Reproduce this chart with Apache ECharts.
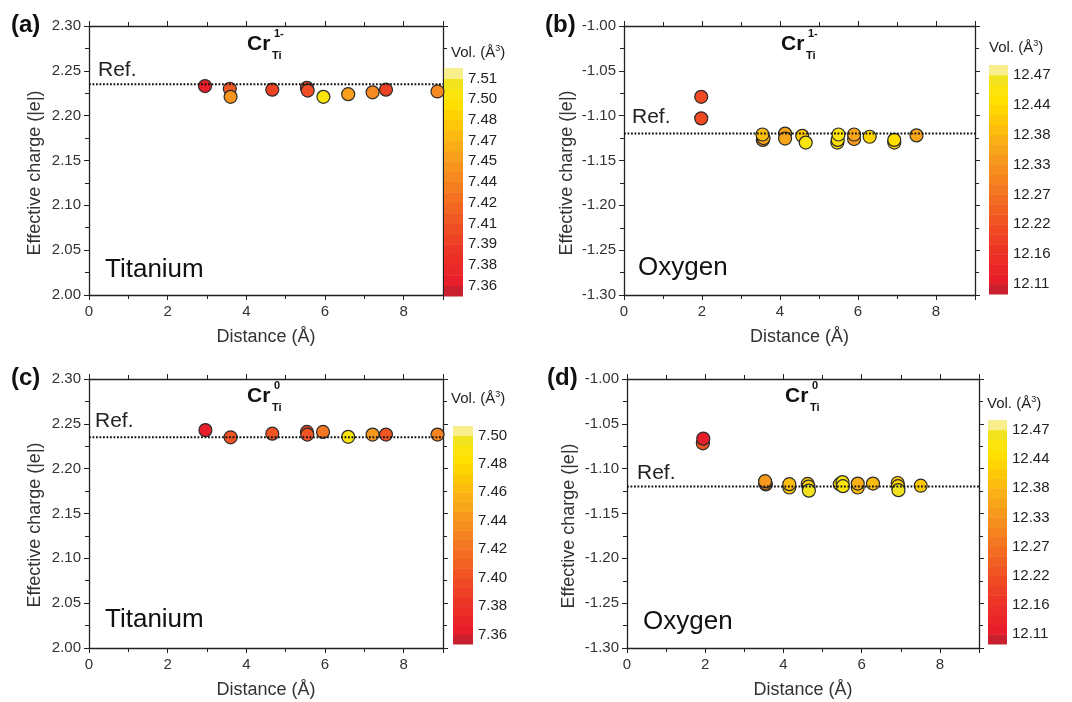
<!DOCTYPE html>
<html>
<head>
<meta charset="utf-8">
<script src="https://cdn.jsdelivr.net/npm/echarts@6/dist/echarts.min.js"></script>
<style>
  html, body { margin: 0; background: #fff; }
  #main { width: 1072px; height: 702px; }
</style>
</head>
<body>
<div id="main"></div>
<script>
var myChart = echarts.init(document.getElementById('main'));

// (a) Titanium, Cr 1-
const distA = [2.95, 3.58, 3.60, 4.66, 5.54, 5.56, 5.96, 6.59, 7.21, 7.55, 8.86];
const chargeA = [2.233, 2.230, 2.221, 2.229, 2.231, 2.228, 2.221, 2.224, 2.226, 2.229, 2.227];
const volA = [7.365, 7.41, 7.445, 7.395, 7.40, 7.405, 7.50, 7.455, 7.44, 7.39, 7.44];
const refA = 2.235;
const volTicksA = ['7.36', '7.38', '7.39', '7.41', '7.42', '7.44', '7.45', '7.47', '7.48', '7.50', '7.51'];

// (b) Oxygen, Cr 1-
const distB = [1.98, 1.98, 3.56, 3.58, 3.55, 4.13, 4.13, 4.57, 4.66, 5.47, 5.48, 5.50, 5.90, 5.90, 6.30, 6.93, 6.93, 7.50];
const chargeB = [-1.079, -1.103, -1.127, -1.125, -1.121, -1.120, -1.1255, -1.1225, -1.130, -1.130, -1.127, -1.121, -1.126, -1.121, -1.1235, -1.130, -1.127, -1.122];
const volB = [12.21, 12.21, 12.34, 12.36, 12.39, 12.35, 12.36, 12.41, 12.45, 12.45, 12.44, 12.45, 12.34, 12.35, 12.43, 12.43, 12.44, 12.36];
const refB = -1.120;
const volTicksB = ['12.11', '12.16', '12.22', '12.27', '12.33', '12.38', '12.44', '12.47'];

// (c) Titanium, Cr 0
const distC = [2.96, 3.60, 4.66, 5.54, 5.55, 5.95, 6.59, 7.21, 7.55, 8.86];
const chargeC = [2.243, 2.235, 2.239, 2.241, 2.238, 2.241, 2.2355, 2.238, 2.238, 2.238];
const volC = [7.365, 7.40, 7.40, 7.395, 7.40, 7.42, 7.49, 7.44, 7.40, 7.43];
const refC = 2.235;
const volTicksC = ['7.36', '7.38', '7.40', '7.42', '7.44', '7.46', '7.48', '7.50'];

// (d) Oxygen, Cr 0
const distD = [1.94, 1.95, 3.55, 3.53, 3.53, 4.15, 4.15, 4.62, 4.64, 4.65, 5.44, 5.51, 5.52, 5.90, 5.90, 6.29, 6.92, 6.93, 6.94, 7.51];
const chargeD = [-1.0717, -1.0665, -1.1175, -1.116, -1.114, -1.121, -1.1173, -1.117, -1.120, -1.1245, -1.1173, -1.115, -1.1195, -1.121, -1.1166, -1.1166, -1.116, -1.1195, -1.124, -1.119];
const volD = [12.235, 12.12, 12.33, 12.34, 12.34, 12.40, 12.39, 12.41, 12.43, 12.46, 12.42, 12.45, 12.45, 12.38, 12.37, 12.39, 12.40, 12.43, 12.46, 12.40];
const refD = -1.120;
const volTicksD = ['12.11', '12.16', '12.22', '12.27', '12.33', '12.38', '12.44', '12.47'];

const FONT = "'Liberation Sans', Arial, sans-serif";
const INK = '#222';

// colour ramp of the colour bars (bottom -> top)
const rampStops = [
  [0.00, '#e81f2a'], [0.15, '#ed3526'], [0.30, '#f05523'], [0.45, '#f47821'],
  [0.60, '#f7991d'], [0.72, '#fbb514'], [0.84, '#fed300'], [0.92, '#ffe400'], [1.00, '#f2e31f']
];
function hex(c) { return [1, 3, 5].map(function (k) { return parseInt(c.substr(k, 2), 16); }); }
function ramp(t) {
  for (let k = 1; k < rampStops.length; k++) {
    if (t <= rampStops[k][0]) {
      const a = rampStops[k - 1], b = rampStops[k];
      const f = (t - a[0]) / (b[0] - a[0]);
      const ca = hex(a[1]), cb = hex(b[1]);
      return 'rgb(' + ca.map(function (v, j) { return Math.round(v + (cb[j] - v) * f); }).join(',') + ')';
    }
  }
  return rampStops[rampStops.length - 1][1];
}

const panels = [
  { grid: { left: 89, top: 26, width: 354, height: 269 }, bar: { left: 444, top: 68, width: 19, height: 228 },
    yMin: 2.0, yMax: 2.3, dist: distA, charge: chargeA, vol: volA, ref: refA, ticks: volTicksA, perGap: 2 },
  { grid: { left: 624, top: 26, width: 351, height: 269 }, bar: { left: 989, top: 65, width: 19, height: 229 },
    yMin: -1.3, yMax: -1.0, dist: distB, charge: chargeB, vol: volB, ref: refB, ticks: volTicksB, perGap: 3 },
  { grid: { left: 89, top: 379, width: 354, height: 269 }, bar: { left: 453, top: 426, width: 20, height: 218 },
    yMin: 2.0, yMax: 2.3, dist: distC, charge: chargeC, vol: volC, ref: refC, ticks: volTicksC, perGap: 3 },
  { grid: { left: 627, top: 379, width: 352, height: 269 }, bar: { left: 988, top: 420, width: 19, height: 224 },
    yMin: -1.3, yMax: -1.0, dist: distD, charge: chargeD, vol: volD, ref: refD, ticks: volTicksD, perGap: 3 }
];

const grids = [], xAxes = [], yAxes = [], series = [], visualMaps = [];

function axisCommon(showLabel) {
  return {
    axisLine: { show: true, onZero: false, lineStyle: { color: INK, width: 1.3 } },
    axisTick: { show: true, inside: false, length: 5, lineStyle: { color: INK, width: 1 } },
    minorTick: { show: true, splitNumber: 2, length: 4, lineStyle: { color: INK, width: 1 } },
    splitLine: { show: false },
    axisLabel: { show: showLabel, color: '#333', fontSize: 15, fontFamily: FONT }
  };
}

panels.forEach(function (p, i) {
  const g = grids.length;
  grids.push(Object.assign({ outerBoundsMode: 'none' }, p.grid));
  grids.push(Object.assign({ outerBoundsMode: 'none' }, p.bar));

  const xb = xAxes.length;
  const xBottom = Object.assign(axisCommon(true), {
    type: 'value', gridIndex: g, position: 'bottom', min: 0, max: 9, interval: 2,
    name: 'Distance (\u00C5)', nameLocation: 'middle', nameGap: 33,
    nameTextStyle: { color: '#333', fontSize: 18, fontFamily: FONT }
  });
  xBottom.axisLabel.margin = 9;
  xBottom.axisLabel.showMaxLabel = false;
  xAxes.push(xBottom);
  const xTop = Object.assign(axisCommon(false), { type: 'value', gridIndex: g, position: 'top', min: 0, max: 9, interval: 2 });
  xAxes.push(xTop);
  xAxes.push({ type: 'value', gridIndex: g + 1, min: 0, max: 1, show: false });

  const yl = yAxes.length;
  const yLeft = Object.assign(axisCommon(true), {
    type: 'value', gridIndex: g, position: 'left', min: p.yMin, max: p.yMax, interval: 0.05
  });
  yLeft.axisLabel.margin = 8;
  yLeft.axisLabel.formatter = function (v) { return v.toFixed(2); };
  yAxes.push(yLeft);
  yAxes.push(Object.assign(axisCommon(false), { type: 'value', gridIndex: g, position: 'right', min: p.yMin, max: p.yMax, interval: 0.05 }));

  // colour bar: band index scale
  const nBands = (p.ticks.length - 1) * p.perGap + 2;
  const tickPos = p.ticks.map(function (t, k) { return 1 + k * p.perGap; });
  yAxes.push({
    type: 'value', gridIndex: g + 1, position: 'right', min: 0, max: nBands,
    axisLine: { show: false }, axisTick: { show: false }, splitLine: { show: false },
    axisLabel: {
      show: true, color: INK, fontSize: 15, fontFamily: FONT, margin: 5,
      customValues: tickPos,
      formatter: function (v) { const k = Math.round((v - 1) / p.perGap); return p.ticks[k] || ''; }
    }
  });

  const colors = [];
  for (let b = 0; b < nBands; b++) {
    if (b === 0) colors.push('#c8202f');
    else if (b === nBands - 1) colors.push('#f8ef8c');
    else colors.push(ramp((b - 1) / (nBands - 3)));
  }

  // volume value at each band boundary (boundary b sits between band b-1 and b)
  const labelVals = p.ticks.map(Number);
  function boundary(b) {
    const k = Math.floor((b - 1) / p.perGap), r = (b - 1) - k * p.perGap;
    if (k >= labelVals.length - 1) return labelVals[labelVals.length - 1];
    return labelVals[k] + (labelVals[k + 1] - labelVals[k]) * r / p.perGap;
  }
  const pieces = [];
  for (let b = 0; b < nBands; b++) {
    const piece = { color: colors[b] };
    if (b > 0) piece.gte = boundary(b);
    if (b < nBands - 1) piece.lt = boundary(b + 1);
    pieces.push(piece);
  }

  const scatterIndex = series.length;
  series.push({
    type: 'scatter', xAxisIndex: xb, yAxisIndex: yl, symbolSize: 13, clip: false, z: 3,
    itemStyle: { borderColor: '#2a2a2a', borderWidth: 1.2, opacity: 1 },
    data: p.dist.map(function (d, k) { return [d, p.charge[k], p.vol[k]]; })
  });
  series.push({
    type: 'line', xAxisIndex: xb, yAxisIndex: yl, symbol: 'none', z: 5, silent: true,
    lineStyle: { color: '#111', width: 2, type: [1.8, 1.7] },
    data: [[0, p.ref], [9, p.ref]]
  });
  series.push({
    type: 'custom', xAxisIndex: xb + 2, yAxisIndex: yl + 2, silent: true,
    data: colors.map(function (c, b) { return [0, b]; }),
    encode: { x: 0, y: 1 },
    renderItem: function (params, api) {
      const b = api.value(1);
      const p0 = api.coord([0, b]);
      const p1 = api.coord([1, b + 1]);
      return { type: 'rect', shape: { x: p0[0], y: p1[1], width: p1[0] - p0[0], height: p0[1] - p1[1] + 0.5 },
        style: { fill: colors[b] } };
    }
  });
  visualMaps.push({ type: 'piecewise', show: false, seriesIndex: scatterIndex, dimension: 2, pieces: pieces });
});

function txt(x, y, text, size, extra) {
  return {
    type: 'text', x: x, y: y, silent: true,
    style: Object.assign({ text: text, fontSize: size, fontFamily: FONT, fill: INK, align: 'left', verticalAlign: 'middle' }, extra || {})
  };
}
function yName(x, y) {
  return { type: 'text', x: x, y: y, rotation: Math.PI / 2, silent: true,
    style: { text: 'Effective charge (|e|)', fontSize: 18, fontFamily: FONT, fill: '#333', align: 'center', verticalAlign: 'middle' } };
}
function crTitle(x, y, charge) {
  return [
    txt(x, y, 'Cr', 21, { fontWeight: 'bold', fill: '#111' }),
    txt(x + 27, y - 10, charge, 11, { fontWeight: 'bold', fill: '#111' }),
    txt(x + 25, y + 12, 'Ti', 11, { fontWeight: 'bold', fill: '#111' })
  ];
}
function volTitle(x, y) {
  return txt(x, y, '{a|Vol. (\u00C5}{s|3}{a|)}', 15, {
    rich: { a: { fontSize: 15, fontFamily: FONT, fill: INK }, s: { fontSize: 9, fontFamily: FONT, fill: INK, padding: [0, 0, 8, 0] } }
  });
}

const graphics = [
  txt(11, 25, '(a)', 24, { fontWeight: 'bold', fill: '#111' }),
  txt(545, 25, '(b)', 24, { fontWeight: 'bold', fill: '#111' }),
  txt(11, 378, '(c)', 24, { fontWeight: 'bold', fill: '#111' }),
  txt(547, 378, '(d)', 24, { fontWeight: 'bold', fill: '#111' }),
  txt(98, 70, 'Ref.', 21), txt(632, 117, 'Ref.', 21), txt(95, 421, 'Ref.', 21), txt(637, 473, 'Ref.', 21),
  txt(105, 270, 'Titanium', 26, { fill: '#111' }), txt(638, 268, 'Oxygen', 26, { fill: '#111' }),
  txt(105, 620, 'Titanium', 26, { fill: '#111' }), txt(643, 622, 'Oxygen', 26, { fill: '#111' }),
  yName(35, 173), yName(567, 173), yName(35, 525), yName(569, 526),
  volTitle(451, 53), volTitle(989, 48), volTitle(451, 399), volTitle(987, 404)
].concat(crTitle(247, 44, '1-'), crTitle(781, 44, '1-'), crTitle(247, 396, '0'), crTitle(785, 396, '0'));

option = {
  backgroundColor: '#fff',
  animation: false,
  grid: grids,
  xAxis: xAxes,
  yAxis: yAxes,
  visualMap: visualMaps,
  series: series,
  graphic: graphics
};
myChart.setOption(option);
</script>
</body>
</html>
